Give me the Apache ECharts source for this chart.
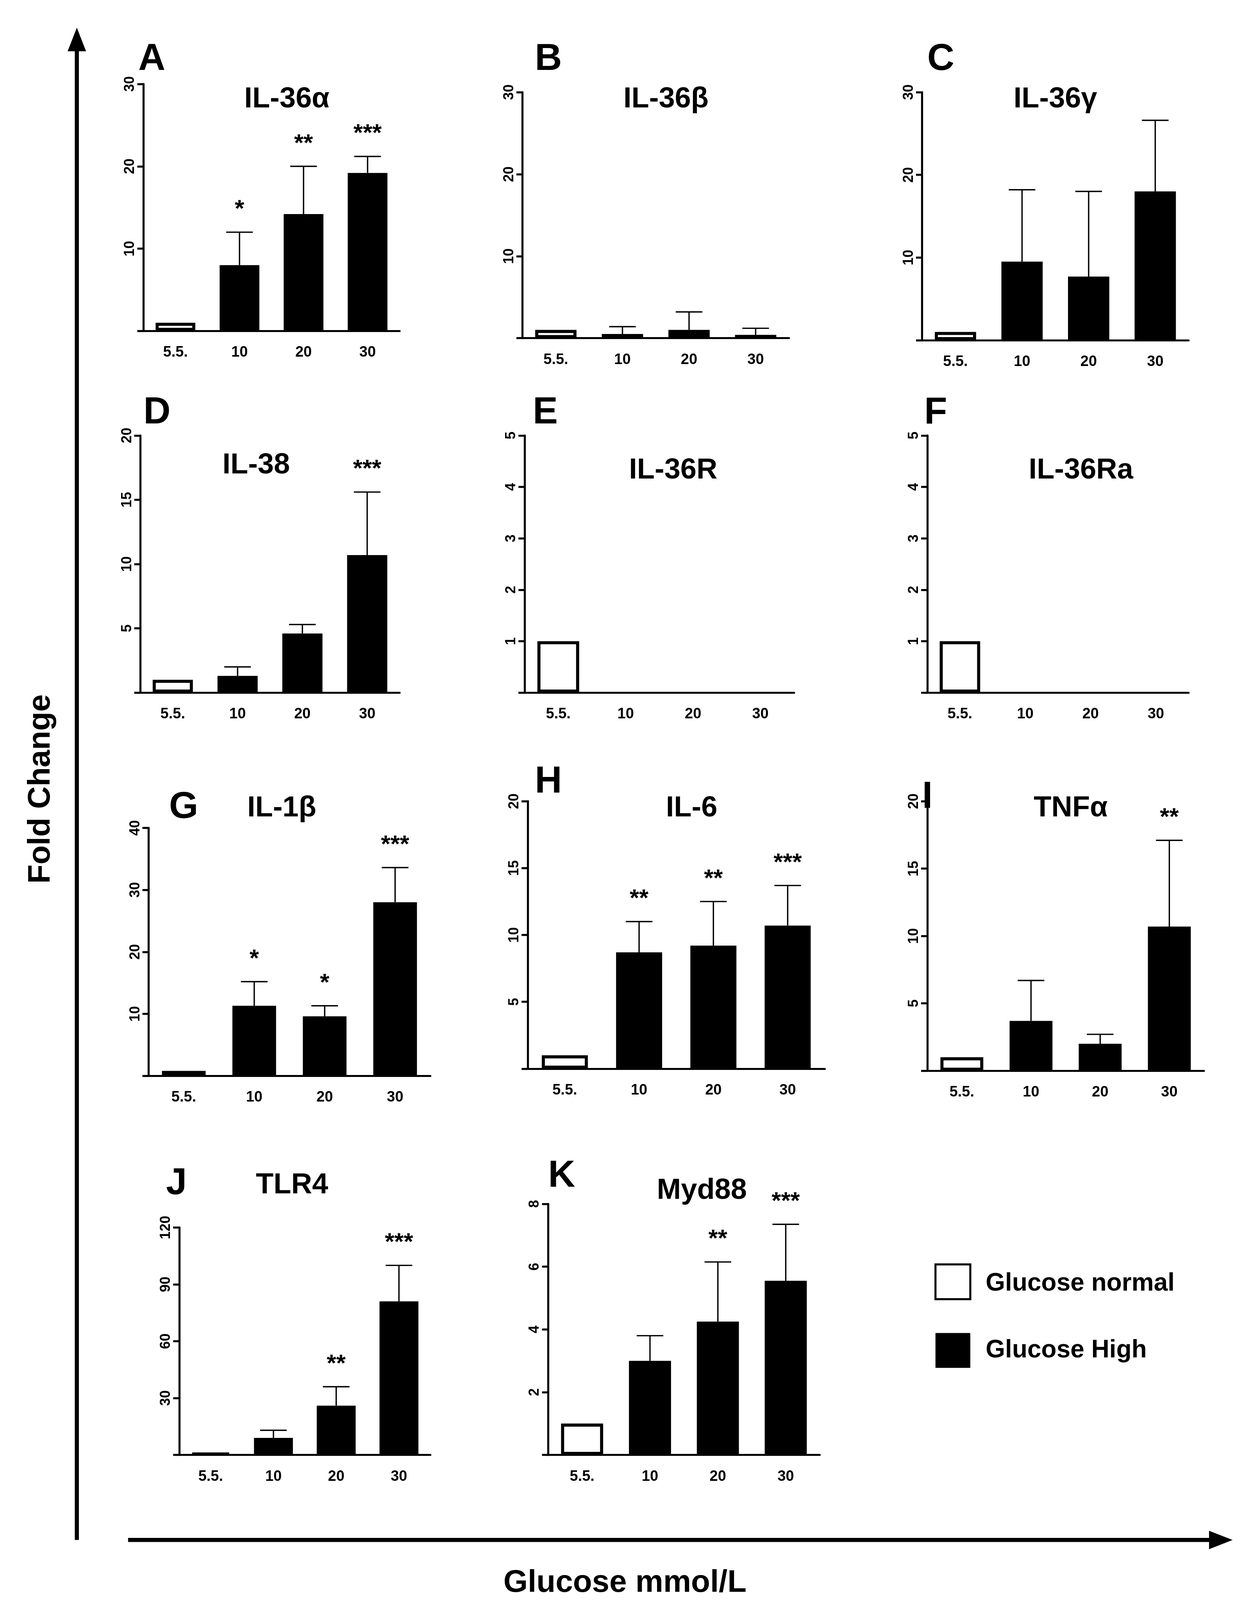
<!DOCTYPE html>
<html lang="en">
<head>
<meta charset="UTF-8">
<title>Fold change vs glucose</title>
<script src="https://cdn.jsdelivr.net/npm/echarts@6/dist/echarts.min.js"></script>
<style>
  html, body { margin: 0; padding: 0; background: #fff; }
  #main { width: 3200px; height: 4113px; }
</style>
</head>
<body>
<div id="main"></div>
<script>
  const S = 2.623;
  const glucose = ['5.5.', '10', '20', '30'];

  // panel data: means, upper error (SD), significance marks
  const il36a = [1, 8, 14.2, 19.2], il36aErr = [0, 4, 5.8, 2], il36aSig = ['', '*', '**', '***'];
  const il36b = [1, 0.5, 1, 0.4], il36bErr = [0, 0.9, 2.2, 0.8], il36bSig = ['', '', '', ''];
  const il36g = [1, 9.5, 7.7, 18], il36gErr = [0, 8.7, 10.3, 8.6], il36gSig = ['', '', '', ''];
  const il38 = [1, 1.3, 4.6, 10.7], il38Err = [0, 0.7, 0.7, 4.9], il38Sig = ['', '', '', '***'];
  const il36r = [1, 0, 0, 0], il36rErr = [0, 0, 0, 0], il36rSig = ['', '', '', ''];
  const il36ra = [1, 0, 0, 0], il36raErr = [0, 0, 0, 0], il36raSig = ['', '', '', ''];
  const il1b = [0.8, 11.3, 9.6, 28], il1bErr = [0, 3.9, 1.7, 5.6], il1bSig = ['', '*', '*', '***'];
  const il6 = [1, 8.7, 9.2, 10.7], il6Err = [0, 2.3, 3.3, 3], il6Sig = ['', '**', '**', '***'];
  const tnfa = [1, 3.7, 2, 10.7], tnfaErr = [0, 3, 0.7, 6.4], tnfaSig = ['', '', '', '**'];
  const tlr4 = [1, 9, 26, 81], tlr4Err = [0, 4, 10, 19], tlr4Sig = ['', '', '**', '***'];
  const myd88 = [1, 3, 4.25, 5.55], myd88Err = [0, 0.8, 1.9, 1.8], myd88Sig = ['', '', '**', '***'];

  // layout in reference display units (scaled by S)
  const panels = [
    {L:'A', t:'IL-36α', v:il36a, e:il36aErr, s:il36aSig, max:30, iv:10, x0:140, x1:390, yT:82, yB:323, tx:280, ty:83, lx:135, ly:40},
    {L:'B', t:'IL-36β', v:il36b, e:il36bErr, s:il36bSig, max:30, iv:10, x0:510, x1:770, yT:90, yB:330, tx:650, ty:83, lx:522, ly:40},
    {L:'C', t:'IL-36γ', v:il36g, e:il36gErr, s:il36gSig, max:30, iv:10, x0:900, x1:1160, yT:90, yB:332, tx:1030, ty:83, lx:905, ly:40},
    {L:'D', t:'IL-38', v:il38, e:il38Err, s:il38Sig, max:20, iv:5, x0:137, x1:390, yT:425, yB:676, tx:250, ty:440, lx:140, ly:385},
    {L:'E', t:'IL-36R', v:il36r, e:il36rErr, s:il36rSig, max:5, iv:1, x0:512, x1:775, yT:425, yB:676, tx:657, ty:445, lx:520, ly:385},
    {L:'F', t:'IL-36Ra', v:il36ra, e:il36raErr, s:il36raSig, max:5, iv:1, x0:905, x1:1160, yT:425, yB:676, tx:1055, ty:445, lx:902, ly:385},
    {L:'G', t:'IL-1β', v:il1b, e:il1bErr, s:il1bSig, max:40, iv:10, x0:145, x1:420, yT:808, yB:1050, tx:275, ty:775, lx:165, ly:770},
    {L:'H', t:'IL-6', v:il6, e:il6Err, s:il6Sig, max:20, iv:5, x0:515, x1:805, yT:782, yB:1043, tx:675, ty:775, lx:522, ly:745},
    {L:'I', t:'TNFα', v:tnfa, e:tnfaErr, s:tnfaSig, max:20, iv:5, x0:905, x1:1175, yT:782, yB:1045, tx:1045, ty:775, lx:900, ly:760},
    {L:'J', t:'TLR4', v:tlr4, e:tlr4Err, s:tlr4Sig, max:120, iv:30, x0:175, x1:420, yT:1198, yB:1420, tx:285, ty:1143, lx:162, ly:1137},
    {L:'K', t:'Myd88', v:myd88, e:myd88Err, s:myd88Sig, max:8, iv:2, x0:535, x1:800, yT:1175, yB:1420, tx:685, ty:1148, lx:535, ly:1130}
  ];

  const chart = echarts.init(document.getElementById('main'), null, {renderer: 'canvas'});
  const grid = [], xAxis = [], yAxis = [], series = [], graphic = [];
  const lw = 2 * S;

  panels.forEach(function (p, i) {
    grid.push({left: p.x0 * S, top: p.yT * S, width: (p.x1 - p.x0) * S, height: (p.yB - p.yT) * S});
    xAxis.push({
      type: 'category', gridIndex: i, data: glucose,
      axisLine: {lineStyle: {color: '#000', width: lw}},
      axisTick: {alignWithLabel: true, length: 8 * S, lineStyle: {color: '#000', width: lw}},
      axisLabel: {color: '#000', fontWeight: 'bold', fontSize: 38, fontFamily: 'Liberation Sans', margin: 14 * S}
    });
    yAxis.push({
      type: 'value', gridIndex: i, min: 0, max: p.max, interval: p.iv,
      splitLine: {show: false},
      axisLine: {show: true, lineStyle: {color: '#000', width: lw}},
      axisTick: {show: true, length: 6 * S, lineStyle: {color: '#000', width: lw}},
      axisLabel: {color: '#000', fontWeight: 'bold', fontSize: 36, fontFamily: 'Liberation Sans', rotate: 90,
        margin: 6 * S, formatter: function (v) { return v === 0 ? '' : v; }}
    });
    series.push({
      type: 'bar', xAxisIndex: i, yAxisIndex: i, barWidth: '62%',
      data: p.v.map(function (v, k) {
        return {value: v, itemStyle: k === 0
          ? {color: '#fff', borderColor: '#000', borderWidth: 3 * S}
          : {color: '#000', borderColor: '#000', borderWidth: 0}};
      })
    });
    series.push({
      type: 'custom', xAxisIndex: i, yAxisIndex: i, z: 5,
      data: p.v.map(function (v, k) { return [k, v, p.e[k], p.s[k]]; }),
      renderItem: function (params, api) {
        const k = api.value(0), v = api.value(1), err = api.value(2);
        const sig = p.s[k];
        const base = api.coord([k, v]);
        const top = api.coord([k, v + err]);
        const cap = 13 * S;
        const children = [];
        if (err > 0) {
          children.push({type: 'line', shape: {x1: base[0], y1: base[1], x2: top[0], y2: top[1]},
            style: {stroke: '#000', lineWidth: 1.3 * S}});
          children.push({type: 'line', shape: {x1: top[0] - cap, y1: top[1], x2: top[0] + cap, y2: top[1]},
            style: {stroke: '#000', lineWidth: 1.3 * S}});
        }
        if (sig) {
          children.push({type: 'text', x: top[0], y: top[1] - 10 * S,
            style: {text: sig, fill: '#000', font: 'bold 62px "Liberation Sans"', align: 'center', verticalAlign: 'bottom'}});
        }
        return {type: 'group', children: children};
      }
    });
    graphic.push({type: 'text', left: p.lx * S, top: p.ly * S,
      style: {text: p.L, fill: '#000', font: 'bold 96px "Liberation Sans"'}});
    graphic.push({type: 'text', x: p.tx * S, y: p.ty * S,
      style: {text: p.t, fill: '#000', font: 'bold 74px "Liberation Sans"', align: 'center', verticalAlign: 'top'}});
  });

  // big arrows
  graphic.push({type: 'line', shape: {x1: 75 * S, y1: 1503 * S, x2: 75 * S, y2: 45 * S}, style: {stroke: '#000', lineWidth: 4 * S}});
  graphic.push({type: 'polygon', shape: {points: [[66 * S, 50 * S], [84 * S, 50 * S], [75 * S, 27 * S]]}, style: {fill: '#000'}});
  graphic.push({type: 'line', shape: {x1: 125 * S, y1: 1503 * S, x2: 1185 * S, y2: 1503 * S}, style: {stroke: '#000', lineWidth: 4 * S}});
  graphic.push({type: 'polygon', shape: {points: [[1180 * S, 1494 * S], [1180 * S, 1512 * S], [1203 * S, 1503 * S]]}, style: {fill: '#000'}});
  graphic.push({type: 'text', x: 40 * S, y: 770 * S, rotation: Math.PI / 2,
    style: {text: 'Fold Change', fill: '#000', font: 'bold 80px "Liberation Sans"', align: 'center', verticalAlign: 'middle'}});
  graphic.push({type: 'text', x: 610 * S, y: 1545 * S,
    style: {text: 'Glucose mmol/L', fill: '#000', font: 'bold 80px "Liberation Sans"', align: 'center', verticalAlign: 'middle'}});

  // legend
  graphic.push({type: 'rect', shape: {x: 913 * S, y: 1234 * S, width: 34 * S, height: 34 * S}, style: {fill: '#fff', stroke: '#000', lineWidth: 2 * S}});
  graphic.push({type: 'rect', shape: {x: 913 * S, y: 1301 * S, width: 34 * S, height: 34 * S}, style: {fill: '#000'}});
  graphic.push({type: 'text', x: 962 * S, y: 1253 * S, style: {text: 'Glucose normal', fill: '#000', font: 'bold 64px "Liberation Sans"', verticalAlign: 'middle'}});
  graphic.push({type: 'text', x: 962 * S, y: 1318 * S, style: {text: 'Glucose High', fill: '#000', font: 'bold 64px "Liberation Sans"', verticalAlign: 'middle'}});

  chart.setOption({animation: false, backgroundColor: '#fff', grid: grid, xAxis: xAxis, yAxis: yAxis, series: series, graphic: graphic});
</script>
</body>
</html>
